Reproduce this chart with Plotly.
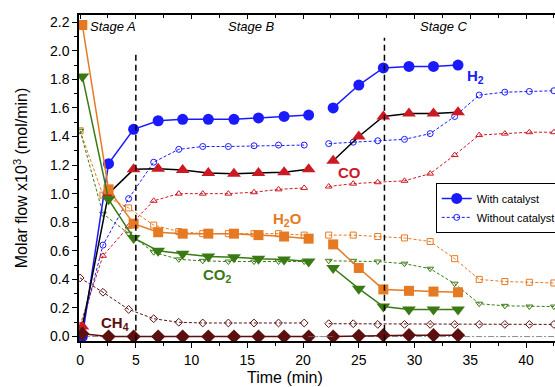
import plotly.graph_objects as go

# ---------------- data ----------------
t_cat = [0.2, 2.55, 4.8, 7.0, 9.2, 11.5, 13.8, 16.0, 18.3, 20.5,
         22.7, 25.0, 27.2, 29.5, 31.7, 33.9]
t_nocat = [0.0, 2.05, 4.35, 6.6, 8.85, 11.0, 13.3, 15.6, 17.8, 20.1,
           22.3, 24.5, 26.7, 29.1, 31.4, 33.6, 35.8, 38.1, 40.3, 42.5]

h2_cat = [0.0, 1.21, 1.45, 1.51, 1.52, 1.52, 1.52, 1.53, 1.54, 1.55,
          1.60, 1.76, 1.88, 1.89, 1.89, 1.90]
co_cat = [0.07, 1.0, 1.17, 1.175, 1.165, 1.145, 1.14, 1.145, 1.15, 1.17,
          1.23, 1.40, 1.54, 1.56, 1.56, 1.57]
h2o_cat = [2.18, 1.03, 0.79, 0.73, 0.72, 0.72, 0.72, 0.71, 0.70, 0.685,
           0.645, 0.48, 0.33, 0.32, 0.315, 0.31]
co2_cat = [1.82, 0.96, 0.69, 0.60, 0.58, 0.56, 0.555, 0.545, 0.54, 0.525,
           0.48, 0.335, 0.21, 0.19, 0.19, 0.19]
ch4_cat = [0.02, 0.0, 0.0, 0.0, 0.0, 0.0, 0.0, 0.0, 0.0, 0.0,
           0.0, 0.005, 0.01, 0.01, 0.01, 0.01]

h2_nocat = [0.02, 0.64, 0.965, 1.22, 1.31, 1.33, 1.33, 1.335, 1.34, 1.34,
            1.35, 1.36, 1.37, 1.38, 1.42, 1.54, 1.69, 1.71, 1.715, 1.72]
co_nocat = [0.08, 0.565, 0.77, 0.95, 1.0, 1.0, 1.0, 1.01, 1.03, 1.04,
            1.05, 1.07, 1.08, 1.09, 1.14, 1.27, 1.41, 1.42, 1.43, 1.43]
h2o_nocat = [1.44, 0.99, 0.90, 0.78, 0.735, 0.72, 0.72, 0.72, 0.72, 0.71,
             0.71, 0.71, 0.70, 0.69, 0.665, 0.545, 0.40, 0.385, 0.38, 0.375]
co2_nocat = [1.44, 0.86, 0.72, 0.59, 0.54, 0.53, 0.525, 0.525, 0.525, 0.525,
             0.53, 0.53, 0.525, 0.51, 0.475, 0.37, 0.23, 0.215, 0.21, 0.21]
ch4_nocat = [0.41, 0.31, 0.19, 0.125, 0.10, 0.095, 0.095, 0.095, 0.095, 0.095,
             0.09, 0.09, 0.085, 0.085, 0.085, 0.085, 0.085, 0.085, 0.085, 0.085]

gap_index = 10          # measurement pause between index 9 and 10
stage_times = [5.0, 27.3]
stage_tops = [2.0, 2.09]
stage_labels = ["Stage A", "Stage B", "Stage C"]
stage_label_x = [2.95, 15.4, 32.6]

BLUE = "#1a1aff"
RED = "#cc1a24"
ORANGE = "#e67a22"
GREEN = "#3a7a14"
DARK = "#5c0f0f"
BLACK = "#000000"
FONT = "Liberation Sans, Arial"


def with_gap(t, v, k=gap_index):
    return list(t[:k]) + [None] + list(t[k:]), list(v[:k]) + [None] + list(v[k:])


fig = go.Figure()

# zero reference line
fig.add_shape(type="line", xref="x", yref="y", x0=0, x1=43, y0=0, y1=0,
              line=dict(color="#8a8a8a", width=1, dash="6px,2px,2px,2px"), layer="below")

series = [
    ("H2", h2_cat, h2_nocat, BLUE, BLUE, "circle", "circle-open", 11),
    ("CO", co_cat, co_nocat, RED, BLACK, "triangle-up", "triangle-up-open", 12),
    ("H2O", h2o_cat, h2o_nocat, ORANGE, ORANGE, "square", "square-open", 10),
    ("CO2", co2_cat, co2_nocat, GREEN, GREEN, "triangle-down", "triangle-down-open", 12),
    ("CH4", ch4_cat, ch4_nocat, DARK, DARK, "diamond", "diamond-open", 11),
]

for name, vc, vn, col, lcol, sc, sn, sz in series:
    x, y = with_gap(t_nocat, vn)
    fig.add_trace(go.Scatter(
        x=x, y=y, mode="lines+markers", connectgaps=False,
        name="Without catalyst" if name == "H2" else name + " (no cat.)",
        showlegend=(name == "H2"), legendrank=2,
        line=dict(color=col, width=1, dash="3px,2px"),
        marker=dict(symbol=sn, size=6, color=col, line=dict(color=col, width=1)),
    ))

for name, vc, vn, col, lcol, sc, sn, sz in series:
    x, y = with_gap(t_cat, vc)
    fig.add_trace(go.Scatter(
        x=x, y=y, mode="lines+markers", connectgaps=False,
        name="With catalyst" if name == "H2" else name + " (cat.)",
        showlegend=(name == "H2"), legendrank=1,
        line=dict(color=lcol, width=1.5),
        marker=dict(symbol=sc, size=sz, color=col, line=dict(width=0)),
    ))

# CH4 with catalyst: grey dotted bridge across the pause
fig.add_trace(go.Scatter(
    x=[t_cat[gap_index - 1], t_cat[gap_index]], y=[ch4_cat[gap_index - 1], ch4_cat[gap_index]],
    mode="lines", showlegend=False, line=dict(color="#999999", width=1, dash="1px,1px")))

# stage separators
for xs, ytop in zip(stage_times, stage_tops):
    fig.add_shape(type="line", xref="x", yref="y", x0=xs, x1=xs, y0=-0.03, y1=ytop,
                  line=dict(color=BLACK, width=1.5, dash="6px,4px"))

for lab, xl in zip(stage_labels, stage_label_x):
    fig.add_annotation(x=xl, y=2.17, xref="x", yref="y", text=lab, showarrow=False,
                       font=dict(size=13, color=BLACK, family=FONT, style="italic"),
                       xanchor="center", yanchor="middle")

species_labels = [
    ("H<sub>2</sub>", 35.5, 1.82, BLUE),
    ("CO", 24.2, 1.15, RED),
    ("H<sub>2</sub>O", 18.6, 0.82, ORANGE),
    ("CO<sub>2</sub>", 12.3, 0.43, GREEN),
    ("CH<sub>4</sub>", 3.1, 0.09, DARK),
]
for txt, xl, yl, col in species_labels:
    fig.add_annotation(x=xl, y=yl, xref="x", yref="y", text="<b>" + txt + "</b>",
                       showarrow=False, xanchor="center", yanchor="middle",
                       font=dict(size=15, color=col, family=FONT))

# x-axis title
fig.add_annotation(x=0.433, y=-0.113, xref="paper", yref="paper", text="Time (min)",
                   showarrow=False, xanchor="center", yanchor="middle",
                   font=dict(size=16, color=BLACK, family=FONT))

axis_font = dict(size=14, color=BLACK, family=FONT)
fig.update_layout(
    width=555, height=387,
    margin=dict(l=79, r=0, t=15, b=46, autoexpand=False),
    paper_bgcolor="white", plot_bgcolor="white",
    font=dict(family=FONT, color=BLACK),
    showlegend=True,
    legend=dict(x=1.012, xanchor="right", y=0.485, yanchor="top",
                bordercolor=BLACK, borderwidth=1, bgcolor="white",
                font=dict(size=11, color=BLACK), itemwidth=30,
                tracegroupgap=0),
    xaxis=dict(range=[-0.1, 42.6], tickmode="linear", tick0=0, dtick=5,
               ticks="outside", ticklen=5, tickwidth=1, tickcolor=BLACK,
               minor=dict(ticks="outside", ticklen=3, dtick=2.5, tickcolor=BLACK),
               showline=True, linecolor=BLACK, linewidth=1.5, showgrid=False,
               zeroline=False, tickfont=axis_font, automargin=False),
    xaxis2=dict(range=[-0.1, 42.6], overlaying="x", side="top", matches="x",
                tickmode="linear", tick0=0, dtick=5, ticks="inside", ticklen=4,
                tickcolor=BLACK, minor=dict(ticks="inside", ticklen=3, dtick=2.5, tickcolor=BLACK),
                showline=True, linecolor=BLACK, linewidth=1.5, showgrid=False,
                zeroline=False, showticklabels=False, automargin=False),
    yaxis=dict(range=[-0.031, 2.25], tickmode="linear", tick0=0, dtick=0.2,
               tickformat=".1f", ticks="outside", ticklen=5, tickwidth=1, tickcolor=BLACK,
               minor=dict(ticks="outside", ticklen=3, dtick=0.1, tickcolor=BLACK),
               showline=True, linecolor=BLACK, linewidth=1.5, showgrid=False,
               zeroline=False, tickfont=axis_font, automargin=False,
               title=dict(text="Molar flow x10<sup>3</sup> (mol/min)",
                          font=dict(size=16, color=BLACK, family=FONT), standoff=18)),
)

fig.add_trace(go.Scatter(x=[None], y=[None], xaxis="x2", showlegend=False, hoverinfo="skip"))

fig.write_html("out.html", config={"displayModeBar": False},
               post_script="document.body.style.margin='0';")
